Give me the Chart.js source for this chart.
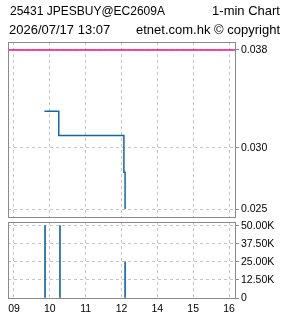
<!DOCTYPE html>
<html>
<head>
<meta charset="utf-8">
<script src="https://cdn.jsdelivr.net/npm/chart.js@4"></script>
<style>
  html, body { margin:0; padding:0; background:#fff; }
  #wrap { position:relative; width:285px; height:318px; overflow:hidden; }
  canvas { position:absolute; left:0; top:0; }
  .t { position:absolute; font-family:"Liberation Sans", Arial, sans-serif; font-size:13px; color:#000; white-space:nowrap; line-height:14px; }
</style>
</head>
<body>
<div id="wrap">
  <canvas id="price" width="285" height="318"></canvas>
  <canvas id="vol" width="285" height="318"></canvas>
  <div class="t" style="left:10px;top:4px;font-size:12px;">25431 JPESBUY@EC2609A</div>
  <div class="t" style="right:5px;top:4px;">1-min Chart</div>
  <div class="t" style="left:9px;top:23px;">2026/07/17 13:07</div>
  <div class="t" style="right:5px;top:23px;">etnet.com.hk © copyright</div>
</div>
<script>
// ---- data (x = trading minutes from 09:00, lunch 12:00-13:00 removed) ----
const xTickMinutes = [0, 60, 120, 180, 240, 300, 360];
const xTickLabels  = ['09', '10', '11', '12', '14', '15', '16'];
const xRange       = [-10, 370];

const priceMinutes = [51, 75, 184, 186];
const priceValues  = [0.033, 0.031, 0.028, 0.025];
const refPrice     = [0.038];
const priceTicks   = [0.025, 0.030, 0.038];
const priceRange   = [0.02435, 0.03865];

const volMinutes   = [52, 77, 186];
const volValues    = [50000, 50000, 25000];
const volTicks     = [0, 12500, 25000, 37500, 50000];
const volRange     = [0, 52500];

const GRID = '#c4c4c4', FRAME = '#8a8a8a', BLUE = '#1866a0', PINK = '#ff0a80';
const FONT = { family: '"Liberation Sans", Arial, sans-serif', size: 10.5 };

const frame = {
  id: 'frame',
  afterDraw(chart) {
    const { ctx, chartArea: a } = chart;
    ctx.save();
    ctx.strokeStyle = FRAME; ctx.lineWidth = 1;
    ctx.strokeRect(Math.round(a.left) + 0.5, Math.round(a.top) + 0.5,
                   Math.round(a.right - a.left), Math.round(a.bottom - a.top));
    ctx.restore();
  }
};

function xScale(showLabels, height) {
  return {
    type: 'linear', min: xRange[0], max: xRange[1], offset: false,
    afterBuildTicks: s => { s.ticks = xTickMinutes.map(v => ({ value: v })); },
    afterFit: s => { s.height = height; },
    grid: { color: GRID, drawTicks: false, offset: false },
    border: { display: false, dash: [3, 3] },
    ticks: {
      display: showLabels, padding: 5, color: '#000', font: FONT, maxRotation: 0, autoSkip: false,
      callback: (v) => { const i = xTickMinutes.indexOf(v); return i >= 0 ? xTickLabels[i] : ''; }
    }
  };
}

function yScale(range, ticks, fmt) {
  return {
    type: 'linear', position: 'right', min: range[0], max: range[1],
    afterBuildTicks: s => { s.ticks = ticks.map(v => ({ value: v })); },
    afterFit: s => { s.width = 50; },
    grid: { color: GRID, tickColor: FRAME, tickLength: 4, tickBorderDash: [] },
    border: { display: false, dash: [3, 3] },
    ticks: { padding: 2, color: '#000', font: FONT, callback: fmt }
  };
}

const common = {
  responsive: false, animation: false, devicePixelRatio: 1,
  plugins: { legend: { display: false }, tooltip: { enabled: false } }
};

new Chart(document.getElementById('price'), {
  type: 'line',
  data: {
    datasets: [
      { data: [{ x: xRange[0], y: refPrice[0] }, { x: xRange[1], y: refPrice[0] }],
        borderColor: PINK, borderWidth: 1.5, pointRadius: 0 },
      { data: priceMinutes.map((m, i) => ({ x: m, y: priceValues[i] })),
        borderColor: BLUE, borderWidth: 1.5, pointRadius: 0, stepped: true }
    ]
  },
  options: Object.assign({}, common, {
    layout: { padding: { left: 8, top: 42, right: 0, bottom: 0 } },
    scales: {
      x: xScale(false, 318 - 217),
      y: yScale(priceRange, priceTicks, v => Number(v).toFixed(3))
    }
  }),
  plugins: [frame]
});

new Chart(document.getElementById('vol'), {
  type: 'bar',
  data: {
    datasets: [
      { data: volMinutes.map((m, i) => ({ x: m, y: volValues[i] })),
        backgroundColor: BLUE, barThickness: 1, borderWidth: 0 }
    ]
  },
  options: Object.assign({}, common, {
    layout: { padding: { left: 8, top: 222, right: 0, bottom: 0 } },
    scales: {
      x: xScale(true, 318 - 298),
      y: yScale(volRange, volTicks, v => v === 0 ? '0' : (v / 1000).toFixed(2) + 'K')
    }
  }),
  plugins: [frame]
});
</script>
</body>
</html>
